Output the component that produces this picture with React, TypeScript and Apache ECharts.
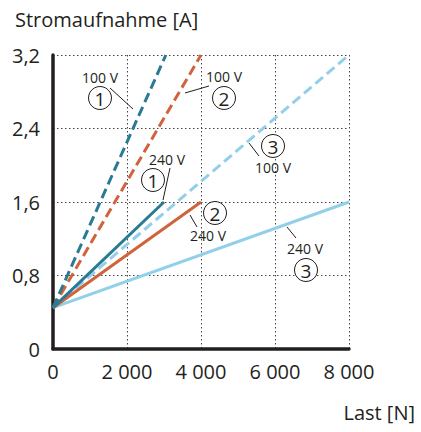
import React, { useEffect, useRef } from "react";
import * as echarts from "echarts";

const xTickLabels = ["0", "2 000", "4 000", "6 000", "8 000"];
const yTickLabels = ["0", "0,8", "1,6", "2,4", "3,2"];

// [Last N, Strom A]
const s1_100V = [[0, 0.45], [3050, 3.2]];
const s1_240V = [[0, 0.45], [3000, 1.6]];
const s2_100V = [[0, 0.45], [4000, 3.2]];
const s2_240V = [[0, 0.45], [4000, 1.6]];
const s3_100V = [[0, 0.45], [8000, 3.2]];
const s3_240V = [[0, 0.45], [8000, 1.6]];

const DARK = "#2a7a93";
const ORANGE = "#d0633b";
const LIGHT = "#92cfe8";
const INK = "#231f20";
const FONT = "Open Sans";

function circled(n: string, cx: number, cy: number) {
  return [
    { type: "circle", shape: { cx, cy, r: 11.5 }, style: { fill: "#fff", stroke: INK, lineWidth: 1 }, z: 100 },
    { type: "text", x: cx, y: cy + 1, style: { text: n, fontSize: 19, fontFamily: FONT, fill: INK, align: "center", verticalAlign: "middle" }, z: 101 },
  ];
}
function label(t: string, cx: number, cy: number) {
  return { type: "text", x: cx, y: cy, style: { text: t, fontSize: 14, fontFamily: FONT, fill: INK, align: "center", verticalAlign: "middle" }, z: 101 };
}
function leader(x1: number, y1: number, x2: number, y2: number) {
  return { type: "line", shape: { x1, y1, x2, y2 }, style: { stroke: INK, lineWidth: 1 }, z: 100 };
}

export default function App() {
  const ref = useRef<HTMLDivElement>(null);
  useEffect(() => {
    const chart = echarts.init(ref.current!, null, { renderer: "svg" });
    const mk = (data: number[][], color: string, dashed: boolean) => ({
      type: "line",
      data,
      symbol: "none",
      lineStyle: { color, width: 3, type: dashed ? [10, 5] : "solid", cap: "butt" },
      silent: true,
    });
    chart.setOption({
      animation: false,
      textStyle: { fontFamily: FONT },
      title: {
        text: "Stromaufnahme [A]",
        left: 10,
        top: 4,
        textStyle: { fontSize: 20, fontWeight: "normal", color: INK, fontFamily: FONT },
      },
      grid: { left: 53, right: 72, top: 55, bottom: 83, containLabel: false },
      xAxis: {
        type: "value",
        min: 0,
        max: 8000,
        interval: 2000,
        axisLine: { show: true, onZero: false, lineStyle: { color: INK, width: 3.5 } },
        axisTick: { show: false },
        axisLabel: {
          fontSize: 20,
          color: INK,
          fontFamily: FONT,
          margin: 12,
          formatter: (v: number) => xTickLabels[Math.round(v / 2000)],
        },
        splitLine: { show: true, lineStyle: { type: [1.5, 2.5], color: "#444", width: 1 } },
      },
      yAxis: {
        type: "value",
        min: 0,
        max: 3.2,
        interval: 0.8,
        axisLine: { show: true, onZero: false, lineStyle: { color: INK, width: 3.5 } },
        axisTick: { show: false },
        axisLabel: {
          fontSize: 20,
          color: INK,
          fontFamily: FONT,
          margin: 13,
          formatter: (v: number) => yTickLabels[Math.round(v / 0.8)],
        },
        splitLine: { show: true, lineStyle: { type: [1.5, 2.5], color: "#444", width: 1 } },
      },
      series: [
        mk(s3_240V, LIGHT, false),
        mk(s3_100V, LIGHT, true),
        mk(s2_240V, ORANGE, false),
        mk(s2_100V, ORANGE, true),
        mk(s1_240V, DARK, false),
        mk(s1_100V, DARK, true),
      ],
      graphic: [
        { type: "text", right: 6, top: 402, style: { text: "Last [N]", fontSize: 20, fontFamily: FONT, fill: INK } },
        // 1 - 100 V
        label("100 V", 100, 77),
        ...circled("1", 100, 98),
        leader(110, 88, 133, 109),
        // 2 - 100 V
        label("100 V", 224, 76),
        ...circled("2", 224, 98),
        leader(185, 93, 209, 86),
        // 1 - 240 V
        label("240 V", 167, 159),
        ...circled("1", 153, 180),
        leader(170, 168, 163, 200),
        // 2 - 240 V
        ...circled("2", 215, 213),
        label("240 V", 208, 235),
        leader(190, 215, 197, 227),
        // 3 - 100 V
        ...circled("3", 273, 146),
        label("100 V", 273, 167),
        leader(249, 143, 259, 156),
        // 3 - 240 V
        label("240 V", 305, 248),
        ...circled("3", 306, 270),
        leader(287, 227, 296, 238),
      ],
    });
    return () => chart.dispose();
  }, []);
  return <div ref={ref} style={{ width: 421, height: 432, position: "absolute", left: 0, top: 0 }} />;
}
